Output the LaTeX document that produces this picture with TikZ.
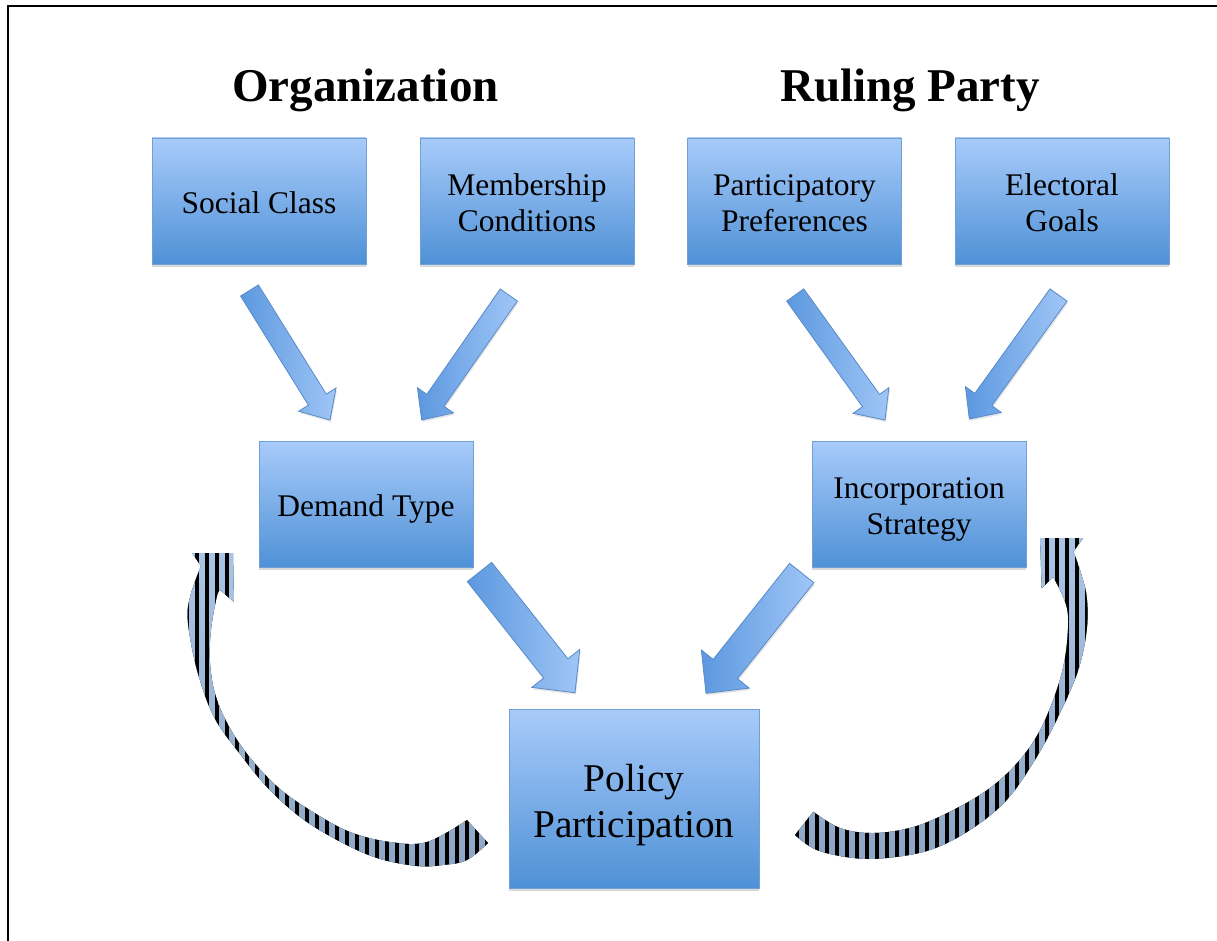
\documentclass[tikz,border=0pt]{standalone}
\usepackage{fontspec}
\setmainfont{Liberation Serif}
\usetikzlibrary{calc,shadows}
\definecolor{boxtop}{RGB}{168,203,250}
\definecolor{boxbot}{RGB}{79,145,214}
\definecolor{boxline}{RGB}{112,160,214}
\definecolor{arrdark}{RGB}{92,152,224}
\definecolor{arrlight}{RGB}{160,198,246}
\definecolor{arrline}{RGB}{88,138,200}
\definecolor{stripebg}{RGB}{170,198,230}
\definecolor{stripebgtwo}{RGB}{140,165,196}
\tikzset{
  box/.style={draw=boxline, line width=0.8pt, top color=boxtop, bottom color=boxbot,
    minimum width=214pt, minimum height=126pt, inner sep=0pt,
    drop shadow={shadow xshift=0pt, shadow yshift=-3pt, opacity=0.3}},
  bigbox/.style={box, minimum width=250pt, minimum height=179pt},
  boxtext/.style={inner sep=0pt, align=center, font=\fontsize{31.5}{36}\selectfont},
  bigtext/.style={inner sep=0pt, align=center, font=\fontsize{39.3}{46}\selectfont},
  titlestyle/.style={font=\fontsize{47}{56}\selectfont\bfseries, inner sep=0pt},
  blockarr/.style={draw=arrline, line width=0.8pt, left color=arrdark, right color=arrlight,
    drop shadow={shadow xshift=1pt, shadow yshift=-2pt, opacity=0.2}},
  stripe/.style={line width=4pt, black},
  framestyle/.style={line width=2pt, black}
}
\newcommand\blockarrow[5]{%
  \coordinate (ba-h) at ($(#2)!#5!(#1)$);
  \path[blockarr] ($(#1)!#3!90:(#2)$) -- ($(ba-h)!#3!90:(#2)$) -- ($(ba-h)!#4!90:(#2)$)
    -- (#2) -- ($(ba-h)!#4!-90:(#2)$) -- ($(ba-h)!#3!-90:(#2)$) -- ($(#1)!#3!-90:(#2)$) -- cycle;
}
\begin{document}
\begin{tikzpicture}[x=1pt, y=-1pt]
\useasboundingbox (0,0) rectangle (1217,941);
\fill[white] (0,0) rectangle (1217,941);
% frame (cropped)
\coordinate (fa) at (8,941);
\coordinate (fb) at (8,6);
\coordinate (fc) at (1217,6);
\draw[framestyle] (fa) -- (fb) -- (fc);

% titles
\node[titlestyle, anchor=base] (org) at (365.5,101.5) {Organization};
\node[titlestyle, anchor=base] (rp) at (910,101.5) {Ruling Party};

% boxes
\node[box] (sc) at (259,201) {};
\node[box] (mc) at (527,201) {};
\node[box] (pp) at (794.5,201) {};
\node[box] (eg) at (1062,201) {};
\node[box] (dt) at (366,504) {};
\node[box] (is) at (919,504) {};
\node[bigbox] (pol) at (634,798.5) {};
\node[boxtext] (sct) at ($(sc)+(0,1.5)$) {Social Class};
\node[boxtext] (mct) at ($(mc)+(0,2)$) {Membership\\Conditions};
\node[boxtext] (ppt) at ($(pp)+(0,2)$) {Participatory\\Preferences};
\node[boxtext] (egt) at ($(eg)+(0,2)$) {Electoral\\Goals};
\node[boxtext] (dtt) at ($(dt)+(0,5)$) {Demand Type};
\node[boxtext] (ist) at ($(is)+(0,5)$) {Incorporation\\Strategy};
\node[bigtext] (polt) at ($(pol)+(0,6.5)$) {Policy\\Participation};

% block arrows
\coordinate (a1s) at (249.5,290.5); \coordinate (a1e) at (330,420);
\coordinate (a2s) at (508.8,295);   \coordinate (a2e) at (421.7,420);
\coordinate (a3s) at (795.2,295);   \coordinate (a3e) at (885,420);
\coordinate (a4s) at (1058.5,295);  \coordinate (a4e) at (969.3,419);
\coordinate (a5s) at (479.5,572);   \coordinate (a5e) at (575,692.7);
\coordinate (a6s) at (801.7,573);   \coordinate (a6e) at (706,693.3);
\blockarrow{a1s}{a1e}{10.5pt}{22pt}{24pt}
\blockarrow{a2s}{a2e}{10.5pt}{22pt}{24pt}
\blockarrow{a3s}{a3e}{10.5pt}{22pt}{24pt}
\blockarrow{a4s}{a4e}{10.5pt}{22pt}{24pt}
\blockarrow{a5s}{a5e}{15.5pt}{30.6pt}{31pt}
\blockarrow{a6s}{a6e}{15.5pt}{30.6pt}{31pt}

% left curved striped arrow
\begin{scope}
\clip (192,553) -- (233,553) -- (234,602) -- (220,590)
  -- plot[smooth, tension=0.6] coordinates {(220,590) (216.7,597) (211,630) (210,663) (216,697) (231,730) (252,760) (280,789) (313,812) (350,832) (390,842) (427,842) (467,820)}
  -- (488,843)
  -- plot[smooth, tension=0.6] coordinates {(488,843) (467,860) (443,865) (417,866) (377,858) (337,840) (300,817) (267,787) (240,754) (214,717) (197,670) (188,623) (190,597) (201,566)}
  -- cycle;
\fill[top color=stripebg, bottom color=stripebgtwo] (180,540) rectangle (500,880);
\foreach \x in {186.7,196.7,...,500} \draw[stripe] (\x,540) -- (\x,880);
\end{scope}

% right curved striped arrow
\begin{scope}
\clip (1040,538) -- (1083.3,538) -- (1073.3,551.7)
  -- plot[smooth, tension=0.6] coordinates {(1073.3,551.7) (1080,570) (1086.7,597) (1086.7,630) (1078.3,670) (1060,713) (1036.7,757) (1006.7,800) (970,830) (930,850) (886.7,858) (853.3,858) (816.7,850) (795,835)}
  -- (813.3,811.7)
  -- plot[smooth, tension=0.6] coordinates {(813.3,811.7) (840,828) (873.3,833) (913.3,827) (953.3,810) (990,788) (1018,762) (1038,734) (1052,703) (1062.5,670) (1067.5,637) (1066.7,607) (1053.3,577)}
  -- (1041.7,588.3) -- cycle;
\fill[top color=stripebg, bottom color=stripebgtwo] (780,530) rectangle (1100,870);
\foreach \x in {786.7,796.7,...,1100} \draw[stripe] (\x,530) -- (\x,870);
\end{scope}
\end{tikzpicture}
\end{document}
